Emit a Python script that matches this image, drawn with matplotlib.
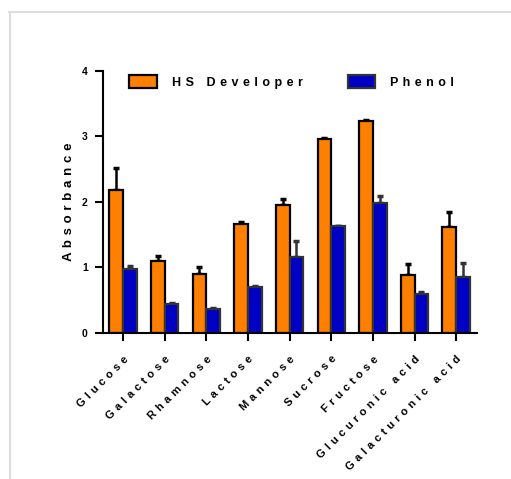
import matplotlib
matplotlib.use('Agg')
import matplotlib.pyplot as plt
from matplotlib.lines import Line2D
import numpy as np

sugars = ['Glucose', 'Galactose', 'Rhamnose', 'Lactose', 'Mannose',
          'Sucrose', 'Fructose', 'Glucuronic acid', 'Galacturonic acid']
hs_dev = [2.19, 1.10, 0.90, 1.66, 1.96, 2.96, 3.24, 0.885, 1.62]
hs_dev_err = [0.33, 0.07, 0.11, 0.04, 0.08, 0.01, 0.01, 0.17, 0.23]
phenol = [0.97, 0.44, 0.36, 0.70, 1.165, 1.63, 1.98, 0.59, 0.86]
phenol_err = [0.05, 0.02, 0.02, 0.01, 0.235, 0.01, 0.11, 0.03, 0.21]
y_ticks = [0, 1, 2, 3, 4]


def spaced(s):
  # wide letter spacing like the original figure
  return ' \u200a'.join(s)


plt.rcParams['font.family'] = ['Liberation Sans', 'DejaVu Sans']
plt.rcParams['font.weight'] = 'bold'

fig = plt.figure(figsize=(5.11, 4.79), dpi=100)
ax = fig.add_axes([0.2016, 0.3048, 0.732, 0.547])

x = np.arange(len(sugars))
w = 0.33
orange = '#FF8000'
blue = '#0000C4'

ax.bar(x - w / 2, hs_dev, w, color=orange, edgecolor='black', linewidth=1.6,
       label=spaced('HS Developer'), zorder=2)
ax.errorbar(x - w / 2, hs_dev, yerr=[np.zeros(len(x)), hs_dev_err], fmt='none',
            ecolor='black', elinewidth=1.8, capsize=2.5, capthick=2.5, zorder=1)
ax.bar(x + w / 2, phenol, w, color=blue, edgecolor='#333333', linewidth=1.6,
       label=spaced('Phenol'), zorder=2)
ax.errorbar(x + w / 2, phenol, yerr=[np.zeros(len(x)), phenol_err], fmt='none',
            ecolor='#333333', elinewidth=1.8, capsize=2.5, capthick=2.5, zorder=1)

ax.set_xlim(-0.48, 8.5)
ax.set_ylim(0, 4)
ax.set_yticks(y_ticks)
ax.set_yticklabels([str(t) for t in y_ticks], fontsize=7.5, fontweight='bold')
ax.set_xticks(x)
ax.set_xticklabels([spaced(s) for s in sugars], rotation=45, ha='right',
                   rotation_mode='anchor', fontsize=8, fontweight='bold')
ax.set_ylabel(spaced('Absorbance'), fontsize=9.5, fontweight='bold', labelpad=5)

for side in ['top', 'right']:
  ax.spines[side].set_visible(False)
for side in ['left', 'bottom']:
  ax.spines[side].set_linewidth(1.5)
ax.tick_params(axis='y', width=1.5, length=6, direction='out', pad=5)
ax.tick_params(axis='x', width=1.5, length=6, direction='out', pad=9)

ax.legend(loc='upper left', bbox_to_anchor=(0.07, 0.985), ncol=2, frameon=False,
          fontsize=9, handlelength=2.2, handleheight=1.25, handletextpad=1.2,
          columnspacing=3.6, borderpad=0, borderaxespad=0)

# light gray frame lines at the top and left of the picture
fig.add_artist(Line2D([9 / 511, 1], [1 - 12 / 479, 1 - 12 / 479],
                      color='#DDDDDD', linewidth=1.5, transform=fig.transFigure))
fig.add_artist(Line2D([10 / 511, 10 / 511], [0, 1 - 12 / 479],
                      color='#DDDDDD', linewidth=1.5, transform=fig.transFigure))

fig.savefig('out.png', dpi=100)
